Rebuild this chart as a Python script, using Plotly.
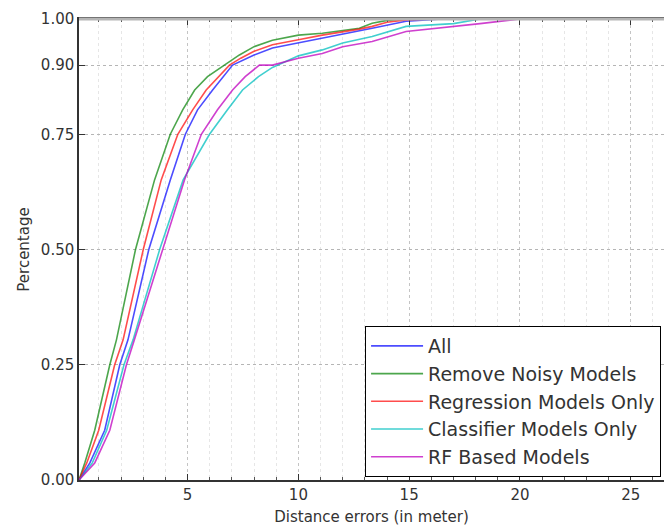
import plotly.graph_objects as go

series_names = ["All", "Remove Noisy Models", "Regression Models Only",
                "Classifier Models Only", "RF Based Models"]

all_x = [0.1, 0.59, 1.26, 1.94, 2.31, 3.25, 4.22, 4.9, 5.45, 6.13, 7.03, 7.34, 8.0, 8.83,
         10.0, 11.08, 12.75, 13.33, 14.86, 16.5, 26.0]
all_y = [0.0, 0.037, 0.108, 0.25, 0.304, 0.5, 0.651, 0.75, 0.803, 0.846, 0.9, 0.907, 0.922, 0.937,
         0.948, 0.958, 0.973, 0.98, 0.995, 1.0, 1.0]

noisy_x = [0.1, 0.36, 0.81, 1.49, 1.79, 2.65, 3.51, 4.22, 4.78, 5.32, 5.9, 6.67, 7.34, 8.0, 8.83,
           10.0, 11.08, 12.0, 12.75, 13.33, 14.0, 14.9, 26.0]
noisy_y = [0.0, 0.037, 0.108, 0.25, 0.304, 0.5, 0.651, 0.75, 0.803, 0.846, 0.875, 0.9, 0.922, 0.94, 0.954,
           0.965, 0.969, 0.975, 0.98, 0.991, 0.997, 1.0, 1.0]

regr_x = [0.1, 0.45, 0.99, 1.71, 2.09, 3.0, 3.81, 4.56, 5.23, 5.84, 6.89, 7.4, 8.0, 8.83,
          10.0, 11.08, 12.75, 13.33, 14.0, 14.86, 16.0, 26.0]
regr_y = [0.0, 0.037, 0.108, 0.25, 0.304, 0.5, 0.651, 0.75, 0.803, 0.846, 0.9, 0.915, 0.93, 0.944,
          0.955, 0.965, 0.978, 0.984, 0.993, 0.998, 1.0, 1.0]

clf_x = [0.1, 0.7, 1.35, 2.13, 2.54, 3.74, 4.8, 5.99, 6.8, 7.48, 8.2, 8.83, 10.0, 11.08,
         12.0, 13.33, 14.86, 17.0, 18.2, 26.0]
clf_y = [0.0, 0.037, 0.108, 0.25, 0.304, 0.5, 0.651, 0.75, 0.803, 0.846, 0.875, 0.895, 0.92, 0.933,
         0.948, 0.962, 0.984, 0.99, 1.0, 1.0]

rf_x = [0.1, 0.81, 1.49, 2.24, 2.6, 3.89, 4.86, 5.62, 6.35, 7.03, 7.6, 8.24, 8.83, 10.0,
        11.08, 12.0, 13.33, 14.86, 17.0, 18.2, 20.0, 26.0]
rf_y = [0.0, 0.037, 0.108, 0.25, 0.304, 0.5, 0.651, 0.75, 0.803, 0.846, 0.875, 0.9, 0.9, 0.915,
        0.925, 0.94, 0.951, 0.973, 0.983, 0.99, 1.0, 1.0]

colors = ["rgba(0,0,255,0.7)", "rgba(0,128,0,0.7)", "rgba(255,0,0,0.7)",
          "rgba(0,191,191,0.75)", "rgba(191,0,191,0.75)"]

xs = [all_x, noisy_x, regr_x, clf_x, rf_x]
ys = [all_y, noisy_y, regr_y, clf_y, rf_y]

y_tickvals = [0.0, 0.25, 0.5, 0.75, 0.9, 1.0]
y_ticktext = ["0.00", "0.25", "0.50", "0.75", "0.90", "1.00"]
x_tickvals = [5, 10, 15, 20, 25]

fig = go.Figure()
for name, x, y, c in zip(series_names, xs, ys, colors):
    fig.add_trace(go.Scatter(x=x, y=y, mode="lines", name=name,
                             line=dict(color=c, width=1.6)))

font = dict(family="DejaVu Sans", size=15, color="#333333")

fig.update_layout(
    width=664, height=532,
    margin=dict(l=79, r=0, t=19, b=52),
    paper_bgcolor="white", plot_bgcolor="white",
    font=font,
    showlegend=True,
    legend=dict(x=0.489, y=0.334, xanchor="left", yanchor="top",
                bgcolor="white", bordercolor="black", borderwidth=1,
                font=dict(family="DejaVu Sans", size=19, color="#333333"),
                itemwidth=52, tracegroupgap=0),
    xaxis=dict(range=[0.1, 26.5], tickvals=x_tickvals, ticks="inside", ticklen=6,
               tickcolor="#333", showline=True, linecolor="#333", linewidth=1.5,
               mirror="allticks", showgrid=True, gridcolor="#c4c4c4", griddash="dot",
               gridwidth=1, zeroline=False,
               minor=dict(dtick=1, tick0=0, ticks="inside", ticklen=3, tickcolor="#555",
                          showgrid=True, gridcolor="#e6e6e6", griddash="dot"),
               title=dict(text="Distance errors (in meter)", standoff=9,
                          font=dict(family="DejaVu Sans", size=15, color="#333"))),
    yaxis=dict(range=[0, 1], tickvals=y_tickvals, ticktext=y_ticktext, ticks="inside",
               ticklen=6, tickcolor="#333", showline=True, linecolor="#333", linewidth=1.5,
               mirror=False, showgrid=True, gridcolor="#b5b5b5", griddash="dot",
               zeroline=False,
               title=dict(text="Percentage", standoff=8,
                          font=dict(family="DejaVu Sans", size=15, color="#333"))),
)

fig.add_shape(type="line", xref="paper", yref="paper", x0=0, x1=1, y0=1, y1=1,
              line=dict(color="#b5b5b5", width=3), layer="above")

fig.write_html("out.html")
